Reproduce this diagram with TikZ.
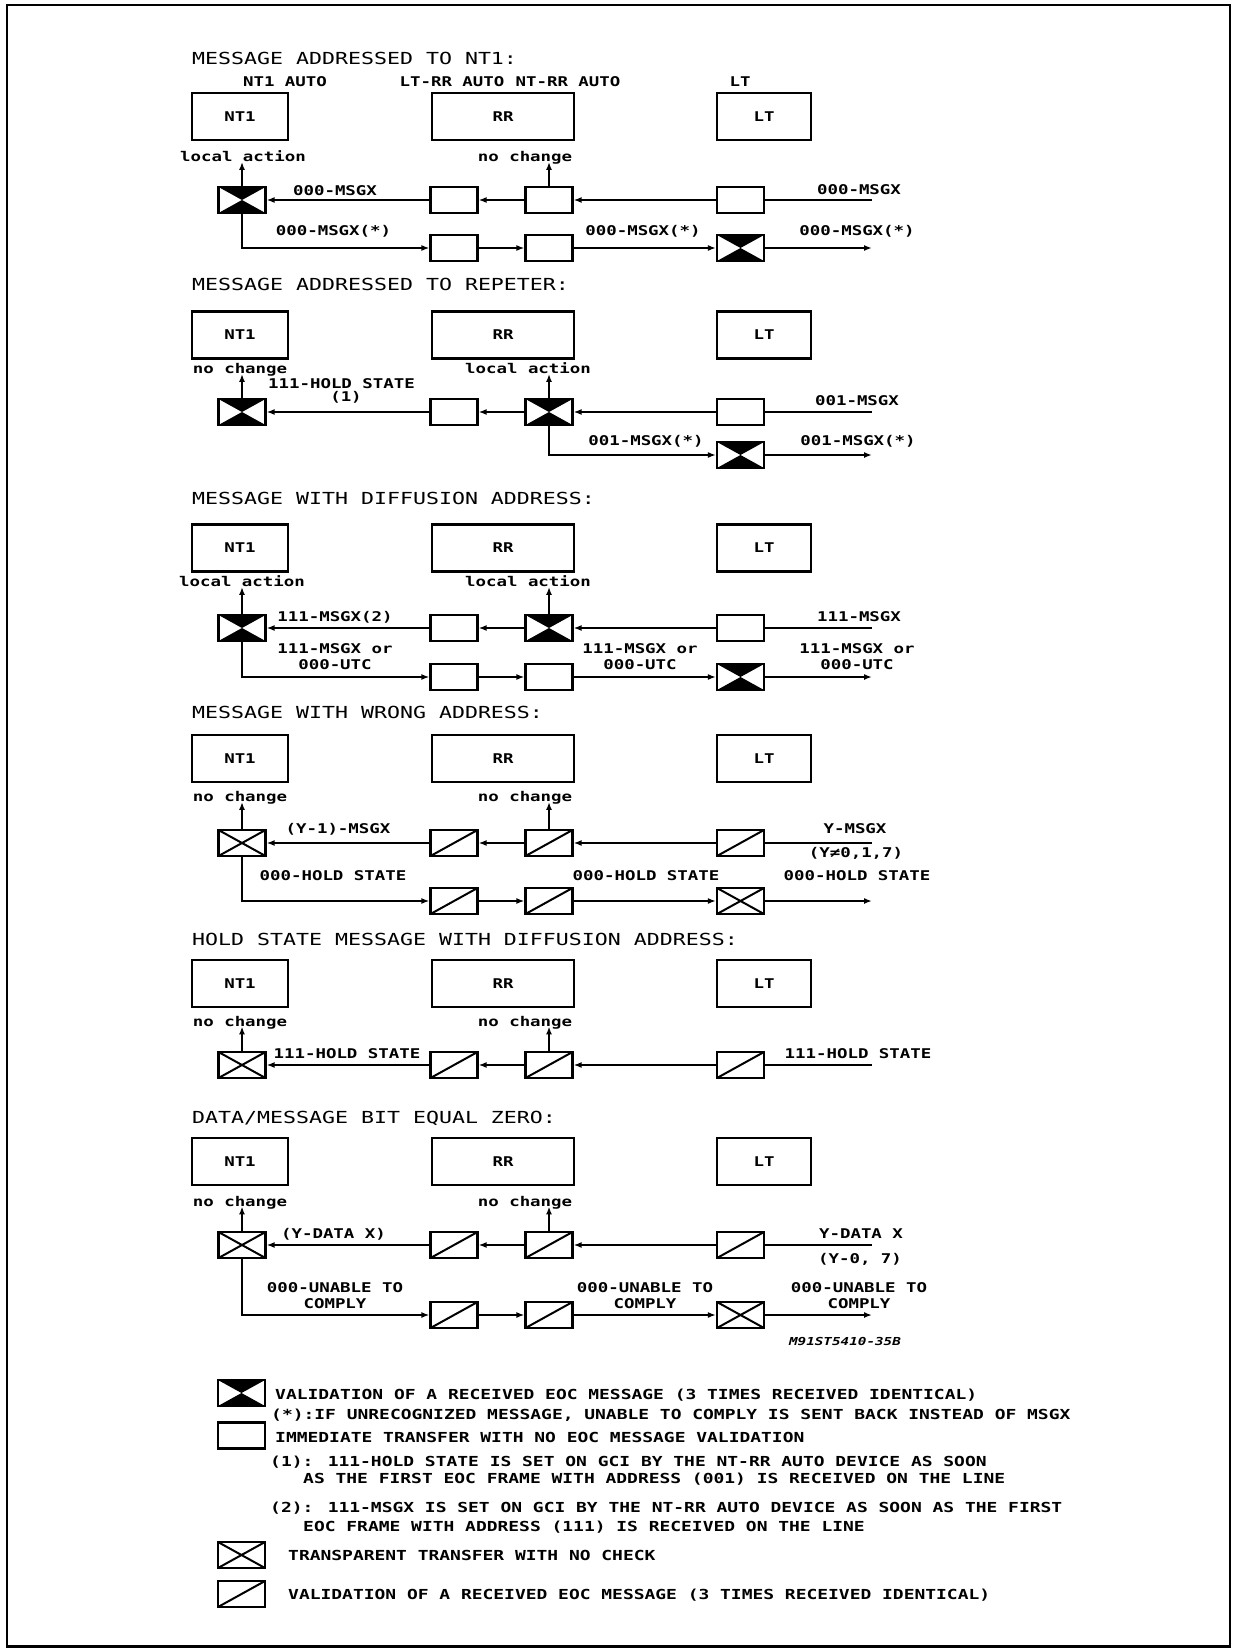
\documentclass[tikz,border=0pt]{standalone}
\usepackage{fontspec}
\newfontfamily\plotfont[FakeStretch=1.3]{DejaVu Sans Mono}
\usetikzlibrary{positioning,arrows.meta}
\tikzset{
  border/.style ={line width=2.5pt},
  unit/.style   ={draw, line width=2.6pt, minimum height=47pt, inner sep=0pt,
                  font=\plotfont\bfseries\fontsize{13.4}{14}\selectfont},
  cell/.style   ={draw, line width=2.2pt, minimum width=47pt, minimum height=26pt, inner sep=0pt},
  immbox/.style ={cell},
  valbox/.style ={cell, path picture={
                   \fill (path picture bounding box.north west) -- (path picture bounding box.north east)
                         -- (path picture bounding box.center) -- cycle
                         (path picture bounding box.south west) -- (path picture bounding box.south east)
                         -- (path picture bounding box.center) -- cycle;}},
  thrubox/.style={cell, path picture={
                   \draw[line width=2pt] (path picture bounding box.north west) -- (path picture bounding box.south east)
                         (path picture bounding box.south west) -- (path picture bounding box.north east);}},
  chkbox/.style ={cell, path picture={
                   \draw[line width=2pt] (path picture bounding box.south west) -- (path picture bounding box.north east);}},
  wire/.style   ={line width=2pt},
  sig/.style    ={wire, -{Latex[length=8pt,width=6pt]}},
  ttl/.style    ={anchor=west, inner sep=0pt, text height=12pt, text depth=0pt,
                  font=\plotfont\fontsize{16.6}{18}\selectfont},
  lbl/.style    ={inner sep=0pt, text height=9.5pt, text depth=0pt,
                  font=\plotfont\bfseries\fontsize{13.4}{14}\selectfont},
  two/.style    ={inner sep=0pt, align=center,
                  font=\plotfont\bfseries\fontsize{13.4}{16.5}\selectfont},
  leg/.style    ={anchor=west, inner sep=0pt, text height=10pt, text depth=0pt,
                  font=\plotfont\bfseries\fontsize{13.8}{15}\selectfont}
}
\newcommand{\unitboxes}[2]{%
  \node[unit, minimum width=96pt]  (#1nt) at (240,#2) {NT1};
  \node[unit, minimum width=142pt] (#1rr) at (503,#2) {RR};
  \node[unit, minimum width=94pt]  (#1lt) at (764,#2) {LT};}

\begin{document}
\begin{tikzpicture}[x=1pt, y=-1pt]
  \useasboundingbox (0,0) rectangle (1233,1648);
  \draw[border] (7,5) rectangle (1230,1646.5);

  % addressed to NT1
  \node[ttl] (t1) at (192,58.5) {MESSAGE ADDRESSED TO NT1:};
  \node[lbl] (nt1auto) at (285,82) {NT1 AUTO};
  \node[lbl] (ltrrauto) at (452,82) {LT-RR AUTO};
  \node[lbl] (ntrrauto) at (568,82) {NT-RR AUTO};
  \node[lbl] (ltname) at (740,82) {LT};
  \unitboxes{s1}{116.5}
  \node[lbl] (s1na) at (243,157) {local action};
  \node[lbl] (s1nc) at (525,157) {no change};
  \node[valbox] (s1a) at (242,200) {};
  \node[immbox] (s1b) at (454,200) {};
  \node[immbox] (s1c) at (549,200) {};
  \node[immbox] (s1d) at (740.5,200) {};
  \node[immbox] (s1b2) at (454,248) {};
  \node[immbox] (s1c2) at (549,248) {};
  \node[valbox] (s1d2) at (740.5,248) {};
  \coordinate (s1in) at (872,200);
  \coordinate (s1out) at (872,248);
  \draw[wire] (s1in) -- (s1d);
  \draw[sig] (s1d) -- (s1c); \draw[sig] (s1c) -- (s1b); \draw[sig] (s1b) -- (s1a);
  \draw[sig] (s1a.north) -- (s1a.north |- s1na.south);
  \draw[sig] (s1c.north) -- (s1c.north |- s1nc.south);
  \draw[sig] (s1a.south) |- (s1b2);
  \draw[sig] (s1b2) -- (s1c2); \draw[sig] (s1c2) -- (s1d2); \draw[sig] (s1d2) -- (s1out);
  \node[lbl] at (335,190.5) {000-MSGX};
  \node[lbl] at (859,190) {000-MSGX};
  \node[lbl] at (333.5,230.5) {000-MSGX(*)};
  \node[lbl] at (643,230.5) {000-MSGX(*)};
  \node[lbl] at (857,230.5) {000-MSGX(*)};

  % addressed to repeater
  \node[ttl] (t2) at (192,284) {MESSAGE ADDRESSED TO REPETER:};
  \unitboxes{s2}{335}
  \node[lbl] (s2na) at (240,369) {no change};
  \node[lbl] (s2nc) at (528,369) {local action};
  \node[valbox] (s2a) at (242,412) {};
  \node[immbox] (s2b) at (454,412) {};
  \node[valbox] (s2c) at (549,412) {};
  \node[immbox] (s2d) at (740.5,412) {};
  \node[valbox] (s2d2) at (740.5,455) {};
  \coordinate (s2in) at (872,412);
  \coordinate (s2out) at (872,455);
  \draw[wire] (s2in) -- (s2d);
  \draw[sig] (s2d) -- (s2c); \draw[sig] (s2c) -- (s2b); \draw[sig] (s2b) -- (s2a);
  \draw[sig] (s2a.north) -- (s2a.north |- s2na.south);
  \draw[sig] (s2c.north) -- (s2c.north |- s2nc.south);
  \draw[sig] (s2c.south) |- (s2d2);
  \draw[sig] (s2d2) -- (s2out);
  \node[lbl] at (341.5,384) {111-HOLD STATE};
  \node[lbl] at (346,397) {(1)};
  \node[lbl] at (857,401) {001-MSGX};
  \node[lbl] at (646,441) {001-MSGX(*)};
  \node[lbl] at (858,441) {001-MSGX(*)};

  % diffusion address
  \node[ttl] (t3) at (192,498) {MESSAGE WITH DIFFUSION ADDRESS:};
  \unitboxes{s3}{548}
  \node[lbl] (s3na) at (242,582) {local action};
  \node[lbl] (s3nc) at (528,582) {local action};
  \node[valbox] (s3a) at (242,628) {};
  \node[immbox] (s3b) at (454,628) {};
  \node[valbox] (s3c) at (549,628) {};
  \node[immbox] (s3d) at (740.5,628) {};
  \node[immbox] (s3b2) at (454,677) {};
  \node[immbox] (s3c2) at (549,677) {};
  \node[valbox] (s3d2) at (740.5,677) {};
  \coordinate (s3in) at (872,628);
  \coordinate (s3out) at (872,677);
  \draw[wire] (s3in) -- (s3d);
  \draw[sig] (s3d) -- (s3c); \draw[sig] (s3c) -- (s3b); \draw[sig] (s3b) -- (s3a);
  \draw[sig] (s3a.north) -- (s3a.north |- s3na.south);
  \draw[sig] (s3c.north) -- (s3c.north |- s3nc.south);
  \draw[sig] (s3a.south) |- (s3b2);
  \draw[sig] (s3b2) -- (s3c2); \draw[sig] (s3c2) -- (s3d2); \draw[sig] (s3d2) -- (s3out);
  \node[lbl] at (335,617) {111-MSGX(2)};
  \node[lbl] at (859,617) {111-MSGX};
  \node[two] at (335,656.5) {111-MSGX or\\000-UTC};
  \node[two] at (640,656.5) {111-MSGX or\\000-UTC};
  \node[two] at (857,656.5) {111-MSGX or\\000-UTC};

  % wrong address
  \node[ttl] (t4) at (192,712) {MESSAGE WITH WRONG ADDRESS:};
  \unitboxes{s4}{758.5}
  \node[lbl] (s4na) at (240,797) {no change};
  \node[lbl] (s4nc) at (525,797) {no change};
  \node[thrubox] (s4a) at (242,843) {};
  \node[chkbox] (s4b) at (454,843) {};
  \node[chkbox] (s4c) at (549,843) {};
  \node[chkbox] (s4d) at (740.5,843) {};
  \node[chkbox] (s4b2) at (454,901) {};
  \node[chkbox] (s4c2) at (549,901) {};
  \node[thrubox] (s4d2) at (740.5,901) {};
  \coordinate (s4in) at (872,843);
  \coordinate (s4out) at (872,901);
  \draw[wire] (s4in) -- (s4d);
  \draw[sig] (s4d) -- (s4c); \draw[sig] (s4c) -- (s4b); \draw[sig] (s4b) -- (s4a);
  \draw[sig] (s4a.north) -- (s4a.north |- s4na.south);
  \draw[sig] (s4c.north) -- (s4c.north |- s4nc.south);
  \draw[sig] (s4a.south) |- (s4b2);
  \draw[sig] (s4b2) -- (s4c2); \draw[sig] (s4c2) -- (s4d2); \draw[sig] (s4d2) -- (s4out);
  \node[lbl] at (338,829) {(Y-1)-MSGX};
  \node[lbl] at (855,829) {Y-MSGX};
  \node[lbl] at (856,853) {(Y≠0,1,7)};
  \node[lbl] at (333,876) {000-HOLD STATE};
  \node[lbl] at (646,876) {000-HOLD STATE};
  \node[lbl] at (857,876) {000-HOLD STATE};

  % hold state, diffusion address
  \node[ttl] (t5) at (192,939) {HOLD STATE MESSAGE WITH DIFFUSION ADDRESS:};
  \unitboxes{s5}{983.5}
  \node[lbl] (s5na) at (240,1021.5) {no change};
  \node[lbl] (s5nc) at (525,1021.5) {no change};
  \node[thrubox] (s5a) at (242,1065) {};
  \node[chkbox] (s5b) at (454,1065) {};
  \node[chkbox] (s5c) at (549,1065) {};
  \node[chkbox] (s5d) at (740.5,1065) {};
  \coordinate (s5in) at (872,1065);
  \draw[wire] (s5in) -- (s5d);
  \draw[sig] (s5d) -- (s5c); \draw[sig] (s5c) -- (s5b); \draw[sig] (s5b) -- (s5a);
  \draw[sig] (s5a.north) -- (s5a.north |- s5na.south);
  \draw[sig] (s5c.north) -- (s5c.north |- s5nc.south);
  \node[lbl] at (347,1054) {111-HOLD STATE};
  \node[lbl] at (858,1054) {111-HOLD STATE};

  % data/message bit zero
  \node[ttl] (t6) at (192,1117) {DATA/MESSAGE BIT EQUAL ZERO:};
  \unitboxes{s6}{1161.5}
  \node[lbl] (s6na) at (240,1201.5) {no change};
  \node[lbl] (s6nc) at (525,1201.5) {no change};
  \node[thrubox] (s6a) at (242,1245) {};
  \node[chkbox] (s6b) at (454,1245) {};
  \node[chkbox] (s6c) at (549,1245) {};
  \node[chkbox] (s6d) at (740.5,1245) {};
  \node[chkbox] (s6b2) at (454,1315) {};
  \node[chkbox] (s6c2) at (549,1315) {};
  \node[thrubox] (s6d2) at (740.5,1315) {};
  \coordinate (s6in) at (872,1245);
  \coordinate (s6out) at (872,1315);
  \draw[wire] (s6in) -- (s6d);
  \draw[sig] (s6d) -- (s6c); \draw[sig] (s6c) -- (s6b); \draw[sig] (s6b) -- (s6a);
  \draw[sig] (s6a.north) -- (s6a.north |- s6na.south);
  \draw[sig] (s6c.north) -- (s6c.north |- s6nc.south);
  \draw[sig] (s6a.south) |- (s6b2);
  \draw[sig] (s6b2) -- (s6c2); \draw[sig] (s6c2) -- (s6d2); \draw[sig] (s6d2) -- (s6out);
  \node[lbl] at (333.5,1234) {(Y-DATA X)};
  \node[lbl] at (861,1234) {Y-DATA X};
  \node[lbl] at (860,1259) {(Y-0, 7)};
  \node[two] at (335,1295.5) {000-UNABLE TO\\COMPLY};
  \node[two] at (645,1295.5) {000-UNABLE TO\\COMPLY};
  \node[two] at (859,1295.5) {000-UNABLE TO\\COMPLY};
  \node[lbl, font=\plotfont\bfseries\itshape\fontsize{11}{12}\selectfont] (ref) at (845,1341) {M91ST5410-35B};

  % legend
  \node[valbox] (k1) at (241.5,1393) {};
  \node[leg] at (275,1394) {VALIDATION OF A RECEIVED EOC MESSAGE (3 TIMES RECEIVED IDENTICAL)};
  \node[leg] at (271,1414) {(*):IF UNRECOGNIZED MESSAGE, UNABLE TO COMPLY IS SENT BACK INSTEAD OF MSGX};
  \node[immbox] (k2) at (241.5,1435.5) {};
  \node[leg] at (275,1437) {IMMEDIATE TRANSFER WITH NO EOC MESSAGE VALIDATION};
  \node[leg] at (270,1461) {(1): 111-HOLD STATE IS SET ON GCI BY THE NT-RR AUTO DEVICE AS SOON};
  \node[leg] at (303,1478) {AS THE FIRST EOC FRAME WITH ADDRESS (001) IS RECEIVED ON THE LINE};
  \node[leg] at (270,1507) {(2): 111-MSGX IS SET ON GCI BY THE NT-RR AUTO DEVICE AS SOON AS THE FIRST};
  \node[leg] at (303,1526) {EOC FRAME WITH ADDRESS (111) IS RECEIVED ON THE LINE};
  \node[thrubox] (k3) at (241.5,1555) {};
  \node[leg] at (288,1555) {TRANSPARENT TRANSFER WITH NO CHECK};
  \node[chkbox] (k4) at (241.5,1594) {};
  \node[leg] at (288,1594) {VALIDATION OF A RECEIVED EOC MESSAGE (3 TIMES RECEIVED IDENTICAL)};
\end{tikzpicture}
\end{document}
